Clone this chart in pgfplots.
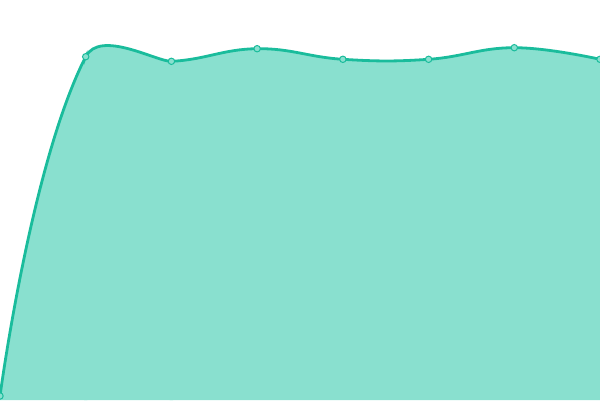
\documentclass[border=0pt]{standalone}
\usepackage{pgfplots}
\pgfplotsset{compat=1.18}
\definecolor{teal1}{RGB}{26,188,156}
\definecolor{tealfill}{RGB}{137,224,207}
\pgfplotstableread{
x y
0 4
1 343.3
2 338.7
3 351.3
4 340.7
5 340.7
6 352.3
7 340.7
}\datatable
\pgfplotsset{piece/.style={scale only axis, height=400pt, ymin=0, ymax=400,
  hide axis, clip=true, anchor=south west}}
\begin{document}
\begin{tikzpicture}
% segment 0-1
\begin{axis}[piece, at={(0pt,0pt)}, width=87.43pt, xmin=0, xmax=1.02]
\addplot[draw=none, fill=tealfill, smooth, tension=1.15] table[x=x,y=y] {\datatable} \closedcycle;
\addplot[teal1, line width=2.8pt, smooth, tension=1.15] table[x=x,y=y] {\datatable};
\end{axis}
% segment 1-2
\begin{axis}[piece, at={(84.0pt,0pt)}, width=89.14pt, xmin=0.98, xmax=2.02]
\addplot[draw=none, fill=tealfill, smooth, tension=0.3] table[x=x,y=y] {\datatable} \closedcycle;
\addplot[teal1, line width=2.8pt, smooth, tension=0.3] table[x=x,y=y] {\datatable};
\end{axis}
% segments 2-7
\begin{axis}[piece, at={(169.71pt,0pt)}, width=430.29pt, xmin=1.98, xmax=7]
\addplot[draw=none, fill=tealfill, smooth, tension=0.72] table[x=x,y=y] {\datatable} \closedcycle;
\addplot[teal1, line width=2.8pt, smooth, tension=0.72] table[x=x,y=y] {\datatable};
\end{axis}
% markers
\begin{axis}[piece, at={(0pt,0pt)}, width=600pt, xmin=0, xmax=7]
\coordinate (sw) at (rel axis cs:0,0);
\coordinate (ne) at (rel axis cs:1,1);
\addplot[only marks, mark=*, mark size=3.2pt, mark options={fill=tealfill, draw=teal1, line width=1pt}] table[x=x,y=y] {\datatable};
\end{axis}
\pgfresetboundingbox
\useasboundingbox (sw) rectangle (ne);
\end{tikzpicture}
\end{document}
